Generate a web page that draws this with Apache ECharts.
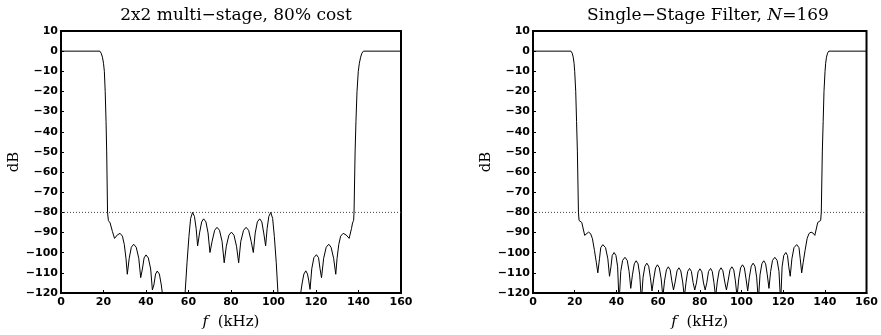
<!DOCTYPE html>
<html>
<head>
<meta charset="utf-8">
<script src="https://cdn.jsdelivr.net/npm/echarts@6/dist/echarts.min.js"></script>
<style>
  html, body { margin: 0; padding: 0; background: #fff; }
  #chart { width: 881px; height: 335px; }
</style>
</head>
<body>
<div id="chart"></div>
<script>
// frequency axis (kHz) and magnitude axis (dB)
var freqTicks = [0, 20, 40, 60, 80, 100, 120, 140, 160];
var dbTicks = [10, 0, -10, -20, -30, -40, -50, -60, -70, -80, -90, -100, -110, -120];
var refLevel = -80;

// 2x2 multi-stage response, [f, dB]
var multiStage = [
  [0, 0], [18.3, 0], [18.9, -1], [19.5, -3], [20, -6], [20.4, -10], [20.8, -20], [21.2, -35], [21.5, -50], [21.9, -80],
  [22.3, -84], [23.1, -85.2], [24.2, -89.5], [25.2, -92.9], [26.5, -91.2], [27.8, -90.4], [28.9, -91.8], [29.8, -96], [30.6, -103], [31.2, -110.7],
  [32.1, -102.8], [33.1, -97.3], [34.2, -95.8], [35.4, -97.3], [36.6, -102.8], [37.5, -112.4],
  [38.3, -108.1], [39.1, -102.6], [40, -101.1], [41.1, -102.6], [42.2, -108.1], [43, -118.5],
  [43.7, -116], [44.5, -110.6], [45.3, -109.1], [46.3, -110.6], [47.2, -116], [47.8, -121], [48.5, -130],
  [58, -130], [58.4, -120], [59.3, -105], [60.2, -92], [61, -83], [61.9, -80], [62.8, -82], [63.6, -88], [64.3, -96.6],
  [65.2, -90.2], [66.2, -84.7], [67.1, -83.2], [68.2, -84.7], [69.2, -90.2], [70.1, -99.9],
  [71.1, -94.4], [72.3, -88.9], [73.4, -87.4], [74.6, -88.9], [75.8, -94.4], [76.8, -105],
  [77.8, -96.8], [79, -91.3], [80.2, -89.8], [81.4, -91.3], [82.6, -96.8], [83.6, -105],
  [84.6, -94.4], [85.9, -88.9], [87.1, -87.4], [88.3, -88.9], [89.5, -94.4], [90.5, -99.9],
  [91.4, -90.2], [92.4, -84.7], [93.5, -83.2], [94.5, -84.7], [95.4, -90.2], [96.3, -96.6],
  [97, -88], [97.8, -82], [98.7, -80], [99.6, -83], [100.4, -92], [101.3, -105], [102.1, -120], [102.6, -130],
  [112.3, -130], [112.8, -120], [113.5, -115], [114.3, -110.6], [115.2, -109], [116, -110.6], [116.6, -114], [117.2, -118.2],
  [118, -108], [119, -102.5], [120.2, -101], [121.2, -102.5], [121.9, -108], [122.6, -112.4],
  [123.6, -102.8], [124.8, -97.3], [126, -95.8], [127.1, -97.3], [128.3, -102.8], [129.3, -110.7],
  [129.9, -103], [130.7, -96], [131.6, -91.8], [132.8, -90.4], [134.2, -91.2], [135.6, -92.9], [136.7, -88], [137.2, -85.2],
  [137.7, -84], [137.9, -80], [138.4, -50], [138.8, -35], [139.3, -20], [139.9, -10], [140.4, -6], [141, -3], [141.6, -1], [142.3, 0], [160, 0]
];

// single-stage N=169 response, [f, dB]
var singleStage = [
  [0, 0], [18.2, 0], [18.8, -1], [19.3, -3], [19.7, -6], [20, -10], [20.5, -20], [20.9, -35], [21.3, -50], [21.8, -80],
  [22.1, -84], [23.4, -85], [24.8, -91.4], [25.6, -90.5], [26.6, -89.8], [27.6, -90.5], [28.5, -93], [29.5, -99], [30.4, -105], [31.1, -110],
  [31.9, -103], [32.5, -97.5], [33.5, -96], [34.8, -97.5], [35.9, -103], [36.7, -111.7],
  [37.4, -107], [38, -101.4], [38.9, -99.9], [39.8, -101.4], [40.6, -107], [41.3, -125],
  [42.1, -109.3], [43, -103.8], [44.1, -102.3], [45.2, -103.8], [46.1, -109.3], [46.9, -117.7],
  [47.7, -111], [48.6, -105.5], [49.5, -104], [50.4, -105.5], [51.2, -111], [52, -124],
  [52.8, -112.2], [53.7, -106.7], [54.6, -105.2], [55.5, -106.7], [56.3, -112.2], [57.1, -119],
  [57.9, -113], [58.8, -107.5], [59.7, -106], [60.6, -107.5], [61.5, -113], [62.3, -122],
  [63.1, -114], [64, -108.5], [64.9, -107], [65.8, -108.5], [66.6, -114], [67.4, -118.5],
  [68.2, -114.5], [69.1, -109], [70, -107.5], [70.9, -109], [71.8, -114.5], [72.6, -122],
  [73.4, -114.8], [74.2, -109.3], [75.1, -107.8], [76, -109.3], [76.8, -114.8], [77.6, -118.5],
  [78.4, -115], [79.2, -109.5], [80.1, -108], [81, -109.5], [81.8, -115], [82.6, -118.5],
  [83.4, -114.8], [84.2, -109.3], [85.2, -107.8], [86, -109.3], [86.8, -114.8], [87.6, -122],
  [88.4, -114.5], [89.3, -109], [90.2, -107.5], [91.1, -109], [92, -114.5], [92.8, -118.5],
  [93.6, -114], [94.5, -108.5], [95.4, -107], [96.3, -108.5], [97.1, -114], [97.9, -122],
  [98.7, -113], [99.6, -107.5], [100.5, -106], [101.4, -107.5], [102.2, -113], [103, -119],
  [103.8, -112.2], [104.7, -106.7], [105.6, -105.2], [106.5, -106.7], [107.3, -112.2], [108.1, -124],
  [108.9, -111], [109.8, -105.5], [110.7, -104], [111.6, -105.5], [112.4, -111], [113.2, -117.7],
  [114, -109.3], [114.9, -103.8], [116, -102.3], [117.1, -103.8], [118, -109.3], [118.8, -125],
  [119.5, -107], [120.3, -101.4], [121.3, -99.9], [122.1, -101.4], [122.7, -107], [123.4, -111.7],
  [124.2, -103], [125.2, -97.5], [126.5, -96], [127.6, -97.5], [128.2, -103], [128.9, -110],
  [129.6, -105], [130.5, -99], [131.5, -93], [132.4, -90.5], [133.4, -89.8], [134.4, -90.3], [135.2, -91.4], [136.6, -85],
  [138, -84], [138.3, -80], [138.8, -50], [139.2, -35], [139.6, -20], [140.1, -10], [140.4, -6], [140.8, -3], [141.3, -1], [141.9, 0], [160, 0]
];

var titles = ['2x2 multi\u2212stage, 80% cost', 'Single\u2212Stage Filter, {i|N}=169'];

var chart = echarts.init(document.getElementById('chart'), null, { renderer: 'canvas' });

var serif = '"DejaVu Serif", "Liberation Serif", serif';
var sans = '"DejaVu Sans", sans-serif';
var gridLefts = [61, 533];

function makeX(i) {
  return {
    gridIndex: i,
    type: 'value',
    min: freqTicks[0],
    max: freqTicks[freqTicks.length - 1],
    interval: 20,
    name: '{i|f}  (kHz)',
    nameLocation: 'middle',
    nameGap: 22,
    nameTextStyle: {
      color: '#000', fontFamily: serif, fontSize: 15,
      rich: { i: { fontStyle: 'italic', fontFamily: serif, fontSize: 15, color: '#000' } }
    },
    axisLine: { show: true, onZero: false, lineStyle: { color: '#000', width: 2 } },
    axisTick: { show: true, inside: true, length: 3, lineStyle: { color: '#000', width: 1 } },
    axisLabel: { color: '#000', fontFamily: sans, fontWeight: 'bold', fontSize: 11, margin: 4 },
    splitLine: { show: false }
  };
}

function makeY(i) {
  return {
    gridIndex: i,
    type: 'value',
    min: dbTicks[dbTicks.length - 1],
    max: dbTicks[0],
    interval: 10,
    name: 'dB',
    nameLocation: 'middle',
    nameGap: 28,
    nameTextStyle: { color: '#000', fontFamily: serif, fontSize: 15 },
    axisLine: { show: true, onZero: false, lineStyle: { color: '#000', width: 2 } },
    axisTick: { show: true, inside: true, length: 3, lineStyle: { color: '#000', width: 1 } },
    axisLabel: {
      color: '#000', fontFamily: sans, fontWeight: 'bold', fontSize: 11, margin: 3,
      formatter: function (v) { return String(v).replace('-', '\u2212'); }
    },
    splitLine: { show: false }
  };
}

function curve(i, data) {
  return {
    type: 'line',
    xAxisIndex: i,
    yAxisIndex: i,
    data: data,
    showSymbol: false,
    clip: true,
    lineStyle: { color: '#000', width: 1 },
    z: 3
  };
}

function refLine(i) {
  return {
    type: 'line',
    xAxisIndex: i,
    yAxisIndex: i,
    data: [[freqTicks[0], refLevel], [freqTicks[freqTicks.length - 1], refLevel]],
    showSymbol: false,
    lineStyle: { color: '#444', width: 1, type: [1, 2] },
    z: 2
  };
}

var option = {
  animation: false,
  backgroundColor: '#fff',
  title: titles.map(function (t, i) {
    return {
      text: t,
      left: gridLefts[i] + 170,
      textAlign: 'center',
      top: 2,
      textStyle: {
        color: '#000', fontFamily: serif, fontWeight: 'normal', fontSize: 17,
        rich: { i: { fontStyle: 'italic', fontFamily: serif, fontSize: 17, color: '#000' } }
      }
    };
  }),
  grid: gridLefts.map(function (l) {
    return { left: l, top: 31, width: 340, height: 267, show: true, borderColor: '#000', borderWidth: 2, backgroundColor: 'transparent' };
  }),
  xAxis: [makeX(0), makeX(1)],
  yAxis: [makeY(0), makeY(1)],
  series: [refLine(0), curve(0, multiStage), refLine(1), curve(1, singleStage)]
};

chart.setOption(option);
</script>
</body>
</html>
